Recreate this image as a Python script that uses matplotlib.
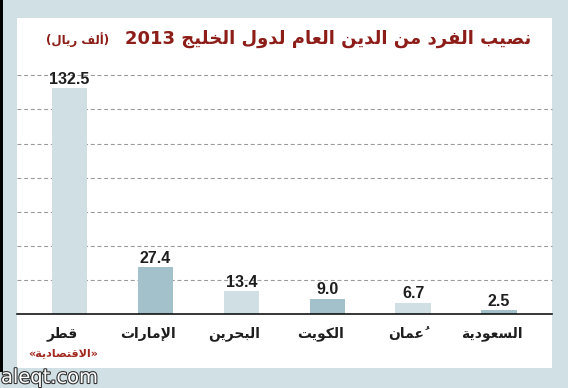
import matplotlib
matplotlib.use("Agg")
import matplotlib.pyplot as plt
from matplotlib.patches import Rectangle
import matplotlib.patheffects as pe

# ---------------- data ----------------
categories = ["قطر", "الإمارات", "البحرين", "الكويت", "عُمان", "السعودية"]
values = [132.5, 27.4, 13.4, 9.0, 6.7, 2.5]
value_labels = ["132.5", "27.4", "13.4", "9.0", "6.7", "2.5"]
title_words = ["نصيب", "الفرد", "من", "الدين", "العام", "لدول", "الخليج", "2013"]
unit_words = ["ألف", "ريال"]
source_word = "الاقتصادية"
grid_values = [20, 40, 60, 80, 100, 120, 140]

# ---------------- minimal Arabic shaping (presentation forms, visual order) -----
FORMS = {
    '\u0627': ('\uFE8D', '\uFE8E', None, None),
    '\u0623': ('\uFE83', '\uFE84', None, None),
    '\u0625': ('\uFE87', '\uFE88', None, None),
    '\u0628': ('\uFE8F', '\uFE90', '\uFE91', '\uFE92'),
    '\u0629': ('\uFE93', '\uFE94', None, None),
    '\u062A': ('\uFE95', '\uFE96', '\uFE97', '\uFE98'),
    '\u062C': ('\uFE9D', '\uFE9E', '\uFE9F', '\uFEA0'),
    '\u062D': ('\uFEA1', '\uFEA2', '\uFEA3', '\uFEA4'),
    '\u062E': ('\uFEA5', '\uFEA6', '\uFEA7', '\uFEA8'),
    '\u062F': ('\uFEA9', '\uFEAA', None, None),
    '\u0631': ('\uFEAD', '\uFEAE', None, None),
    '\u0633': ('\uFEB1', '\uFEB2', '\uFEB3', '\uFEB4'),
    '\u0635': ('\uFEB9', '\uFEBA', '\uFEBB', '\uFEBC'),
    '\u0637': ('\uFEC1', '\uFEC2', '\uFEC3', '\uFEC4'),
    '\u0639': ('\uFEC9', '\uFECA', '\uFECB', '\uFECC'),
    '\u0641': ('\uFED1', '\uFED2', '\uFED3', '\uFED4'),
    '\u0642': ('\uFED5', '\uFED6', '\uFED7', '\uFED8'),
    '\u0643': ('\uFED9', '\uFEDA', '\uFEDB', '\uFEDC'),
    '\u0644': ('\uFEDD', '\uFEDE', '\uFEDF', '\uFEE0'),
    '\u0645': ('\uFEE1', '\uFEE2', '\uFEE3', '\uFEE4'),
    '\u0646': ('\uFEE5', '\uFEE6', '\uFEE7', '\uFEE8'),
    '\u0647': ('\uFEE9', '\uFEEA', '\uFEEB', '\uFEEC'),
    '\u0648': ('\uFEED', '\uFEEE', None, None),
    '\u064A': ('\uFEF1', '\uFEF2', '\uFEF3', '\uFEF4'),
}
LAM_ALEF = {'\u0627': ('\uFEFB', '\uFEFC'), '\u0623': ('\uFEF7', '\uFEF8'),
            '\u0625': ('\uFEF9', '\uFEFA')}
MARKS = {'\u064F', '\u064E', '\u0650', '\u0651', '\u0652'}


def shape_word(w):
    if not any(c in FORMS for c in w):
        return w
    toks = []
    i = 0
    while i < len(w):
        c = w[i]
        if c in MARKS and toks:
            toks[-1][2] += c
            i += 1
            continue
        if c == '\u0644' and i + 1 < len(w) and w[i + 1] in LAM_ALEF:
            toks.append(['LA', w[i + 1], ''])
            i += 2
            continue
        toks.append([c, None, ''])
        i += 1

    def is_ar(t):
        return t[0] == 'LA' or t[0] in FORMS

    def dual(t):
        return t[0] in FORMS and FORMS[t[0]][2] is not None

    out = []
    n = len(toks)
    for k, t in enumerate(toks):
        prev_j = k > 0 and dual(toks[k - 1])
        if t[0] == 'LA':
            g = LAM_ALEF[t[1]][1 if prev_j else 0]
        elif t[0] in FORMS:
            next_j = dual(t) and k + 1 < n and is_ar(toks[k + 1])
            f = FORMS[t[0]]
            if prev_j and next_j:
                g = f[3]
            elif prev_j:
                g = f[1]
            elif next_j:
                g = f[2]
            else:
                g = f[0]
        else:
            g = t[0]
        out.append(g + t[2])
    return ''.join(reversed(out))


def rtl(words):
    return ' '.join(shape_word(w) for w in reversed(words))


# ---------------- figure ----------------
W, H = 568, 388
fig = plt.figure(figsize=(W / 100, H / 100), dpi=100)
frame = '#d0e0e4'
fig.patch.set_facecolor(frame)


def fx(px):
    return px / W


def fy(py):
    return (H - py) / H


fig.add_artist(Rectangle((fx(17), fy(368)), fx(552) - fx(17), fy(18) - fy(368),
                         transform=fig.transFigure, facecolor='white',
                         edgecolor='none', zorder=0))
fig.add_artist(Rectangle((0, fy(372)), fx(3.5), 1 - fy(372),
                         transform=fig.transFigure, facecolor='black',
                         edgecolor='none', zorder=0))

ax = fig.add_axes([fx(17), fy(314), fx(552) - fx(17), fy(75.3) - fy(314)])
ax.set_facecolor('none')
ax.set_xlim(-0.611, 5.617)
ax.set_ylim(0, 140)

for g in grid_values:
    ax.axhline(g, color='#9a9a9a', lw=0.8, ls=(0, (3.5, 2.5)), zorder=1,
               clip_on=False)

light = '#cfdfe3'
dark = '#a3c1cb'
colors = [light if i % 2 == 0 else dark for i in range(len(values))]
x = list(range(len(values)))
ax.bar(x, values, width=0.41, color=colors, zorder=2)

for xi, v, lab in zip(x, values, value_labels):
    ax.annotate(lab, xy=(xi, v), xytext=(0, 3), textcoords='offset points',
                ha='center', va='baseline', fontsize=11.5, fontweight='bold',
                family='Liberation Sans', color='#1e1e1e', zorder=4,
                annotation_clip=False)

for xi, c in zip(x, categories):
    ax.annotate(shape_word(c), xy=(xi, 0), xytext=(-5, -9),
                textcoords='offset points', ha='center', va='top',
                fontsize=10, fontweight='bold', family='DejaVu Sans',
                color='#1e1e1e', annotation_clip=False)

for s in ['top', 'left', 'right']:
    ax.spines[s].set_visible(False)
ax.spines['bottom'].set_color('black')
ax.spines['bottom'].set_linewidth(1.1)
ax.spines['bottom'].set_zorder(5)
ax.set_xticks([])
ax.set_yticks([])

title_color = '#8c1d18'
fig.text(fx(531), fy(44), rtl(title_words), ha='right', va='baseline',
         fontsize=13, fontweight='bold', family='DejaVu Sans',
         color=title_color)
fig.text(fx(46), fy(44), '(' + rtl(unit_words) + ')', ha='left',
         va='baseline', fontsize=8.5, fontweight='bold',
         family='DejaVu Sans', color=title_color)

fig.text(fx(28), fy(356), '«' + shape_word(source_word) + '»', ha='left',
         va='baseline', fontsize=8, fontweight='bold', family='DejaVu Sans',
         color='#a0281e')

fig.text(fx(1), fy(383), 'aleqt.com', ha='left', va='baseline', fontsize=14,
         family='DejaVu Sans', color='white',
         path_effects=[pe.withStroke(linewidth=1.6, foreground='#333333')])

fig.savefig('out.png', dpi=100, facecolor=fig.get_facecolor())
